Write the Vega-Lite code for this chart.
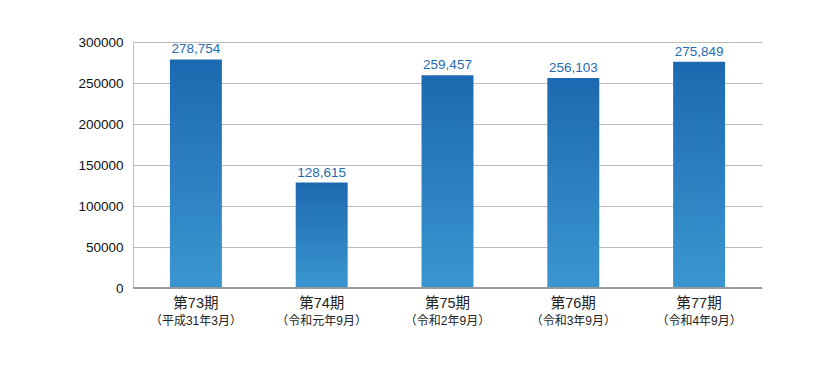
{
  "$schema": "https://vega.github.io/schema/vega-lite/v6.json",
  "width": 629,
  "height": 246,
  "autosize": {"type": "none"},
  "padding": {"left": 133, "top": 42, "right": 78, "bottom": 78},
  "background": "white",
  "config": {"view": {"stroke": null}, "font": "Liberation Sans, Noto Sans CJK JP"},
  "data": {
    "values": [
      {"period": "第73期", "sub": "（平成31年3月）", "value": 278754, "label": "278,754"},
      {"period": "第74期", "sub": "（令和元年9月）", "value": 128615, "label": "128,615"},
      {"period": "第75期", "sub": "（令和2年9月）", "value": 259457, "label": "259,457"},
      {"period": "第76期", "sub": "（令和3年9月）", "value": 256103, "label": "256,103"},
      {"period": "第77期", "sub": "（令和4年9月）", "value": 275849, "label": "275,849"}
    ]
  },
  "encoding": {
    "x": {
      "field": "period", "type": "nominal", "sort": null,
      "scale": {"paddingInner": 0.587, "paddingOuter": 0.2935},
      "axis": {"title": null, "labelAngle": 0, "ticks": false, "domain": false, "labelFontSize": 14.5, "labelColor": "#222", "labelPadding": 8, "labelFont": "Liberation Sans, Noto Sans CJK JP"}
    }
  },
  "layer": [
    {
      "mark": {
        "type": "bar",
        "color": {"gradient": "linear", "x1": 0, "y1": 0, "x2": 0, "y2": 1,
          "stops": [{"offset": 0, "color": "#1d69b1"}, {"offset": 1, "color": "#3b96d0"}]}
      },
      "encoding": {
        "y": {
          "field": "value", "type": "quantitative",
          "scale": {"domain": [0, 300000]},
          "axis": {"title": null, "values": [0, 50000, 100000, 150000, 200000, 250000, 300000], "format": "d", "ticks": false, "labelPadding": 10, "labelFontSize": 13.5, "labelColor": "#111", "gridColor": "#bbbbbb", "domainColor": "#bbbbbb", "labelFont": "Liberation Sans"}
        }
      }
    },
    {
      "mark": {"type": "rule", "color": "#999999", "strokeWidth": 1},
      "encoding": {"y": {"datum": 0}, "x": {"value": 0}, "x2": {"value": 629}}
    },
    {
      "mark": {"type": "text", "baseline": "bottom", "dy": -3, "fontSize": 13.5, "color": "#1f6ab0", "font": "Liberation Sans"},
      "encoding": {"y": {"field": "value", "type": "quantitative"}, "text": {"field": "label"}}
    },
    {
      "mark": {"type": "text", "baseline": "middle", "dy": 33, "fontSize": 12, "color": "#222", "font": "Liberation Sans, Noto Sans CJK JP"},
      "encoding": {"y": {"datum": 0}, "text": {"field": "sub"}}
    }
  ]
}
